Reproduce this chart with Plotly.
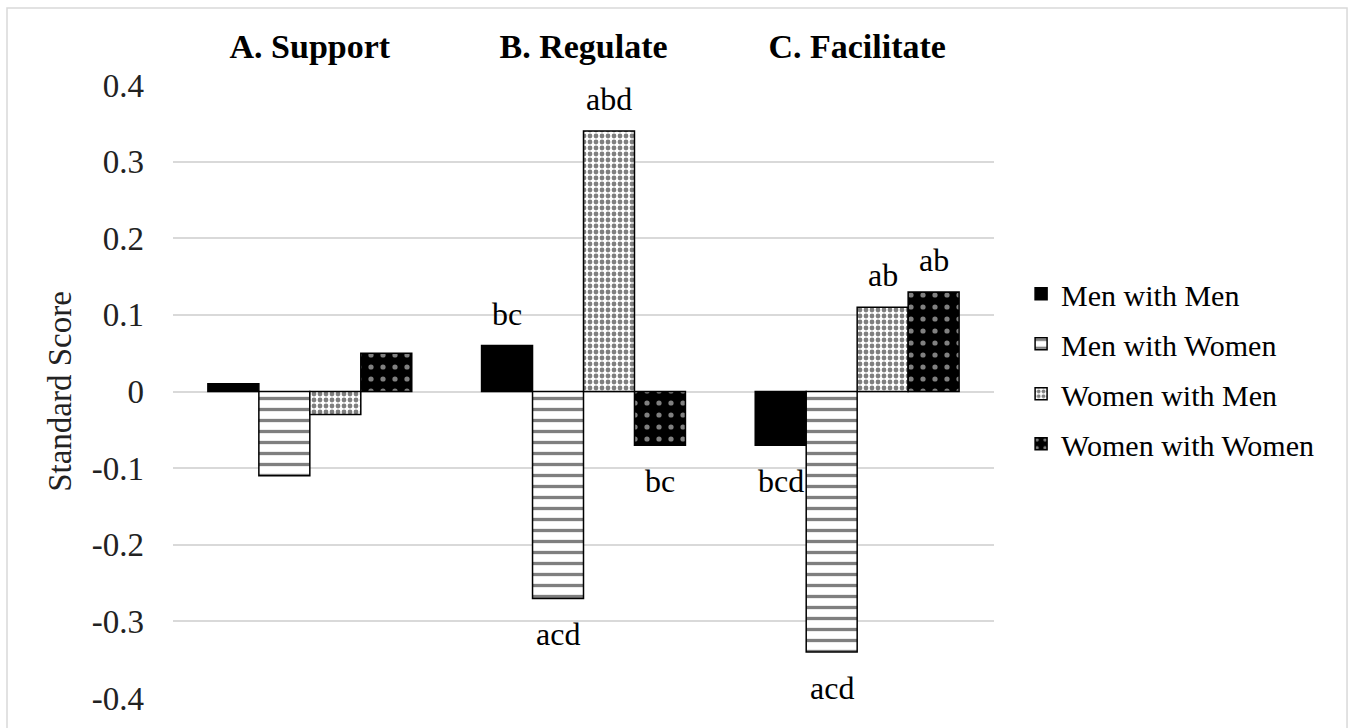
import plotly.graph_objects as go

# Construct categories and group means (standard scores)
constructs = ["A. Support", "B. Regulate", "C. Facilitate"]
series_names = ["Men with Men", "Men with Women", "Women with Men", "Women with Women"]

men_with_men = [0.01, 0.06, -0.07]
men_with_women = [-0.11, -0.27, -0.34]
women_with_men = [-0.03, 0.34, 0.11]
women_with_women = [0.05, -0.07, 0.13]

# Significance letters per bar
sig_men_with_men = ["", "bc", "bcd"]
sig_men_with_women = ["", "acd", "acd"]
sig_women_with_men = ["", "abd", "ab"]
sig_women_with_women = ["", "bc", "ab"]

y_ticks = [0.4, 0.3, 0.2, 0.1, 0, -0.1, -0.2, -0.3, -0.4]
y_tick_text = ["0.4", "0.3", "0.2", "0.1", "0", "-0.1", "-0.2", "-0.3", "-0.4"]

SERIF = "Liberation Serif, Times New Roman, serif"
BARGAP = 0.255

styles = [
    dict(color="black", pattern=dict(shape="")),
    dict(color="white", pattern=dict(shape="-", fgcolor="black", bgcolor="white",
                                     size=11, solidity=0.3)),
    dict(color="white", pattern=dict(shape=".", fgcolor="black", bgcolor="white",
                                     size=6, solidity=0.5)),
    dict(color="black", pattern=dict(shape=".", fgcolor="white", bgcolor="black",
                                     size=12, solidity=0.15)),
]

values = [men_with_men, men_with_women, women_with_men, women_with_women]
labels = [sig_men_with_men, sig_men_with_women, sig_women_with_men, sig_women_with_women]

fig = go.Figure()
for name, vals, st in zip(series_names, values, styles):
    fig.add_trace(go.Bar(
        x=constructs,
        y=vals,
        name=name,
        legendgroup=name,
        marker=dict(color=st["color"], pattern=st["pattern"],
                    line=dict(color="black", width=1.5)),
    ))

# Letter labels just beyond the end of each bar, placed on the category scale
n_series = len(series_names)
bar_w = (1 - BARGAP) / n_series
annotations = []
for s, (vals, txt) in enumerate(zip(values, labels)):
    for c, (v, t) in enumerate(zip(vals, txt)):
        if not t:
            continue
        pos = v >= 0
        annotations.append(dict(
            x=c + (s - (n_series - 1) / 2) * bar_w,
            y=v,
            xref="x", yref="y",
            text=t,
            showarrow=False,
            yanchor="bottom" if pos else "top",
            yshift=12 if pos else -16,
            font=dict(family=SERIF, size=32, color="black"),
        ))

fig.update_layout(
    width=1353,
    height=728,
    paper_bgcolor="white",
    plot_bgcolor="white",
    barmode="group",
    bargap=BARGAP,
    bargroupgap=0,
    margin=dict(l=173, r=359, t=85, b=30),
    font=dict(family=SERIF, color="black"),
    annotations=annotations,
    legend=dict(
        x=1.033, xanchor="left",
        y=0.537, yanchor="middle",
        font=dict(family=SERIF, size=30, color="black"),
        tracegroupgap=8,
        traceorder="grouped",
        itemwidth=30,
        bgcolor="rgba(0,0,0,0)",
    ),
    xaxis=dict(
        side="top",
        showgrid=False,
        showline=False,
        zeroline=False,
        ticks="",
        tickfont=dict(family=SERIF, size=34, color="black", weight="bold"),
        ticklabelstandoff=19,
    ),
    yaxis=dict(
        range=[-0.4, 0.4],
        tickvals=y_ticks,
        ticktext=y_tick_text,
        showgrid=True,
        gridcolor="#d9d9d9",
        gridwidth=1.5,
        zeroline=False,
        showline=False,
        ticks="",
        ticklabelstandoff=28,
        tickfont=dict(family=SERIF, size=33, color="#222"),
        title=dict(text="Standard Score", standoff=10,
                   font=dict(family=SERIF, size=33, color="#222")),
    ),
    shapes=[dict(type="rect", xref="paper", yref="paper",
                 x0=-0.2022, x1=1.430, y0=-0.08, y1=1.1256,
                 line=dict(color="#d9d9d9", width=1.5), layer="below")],
)

fig.write_html("out.html")
